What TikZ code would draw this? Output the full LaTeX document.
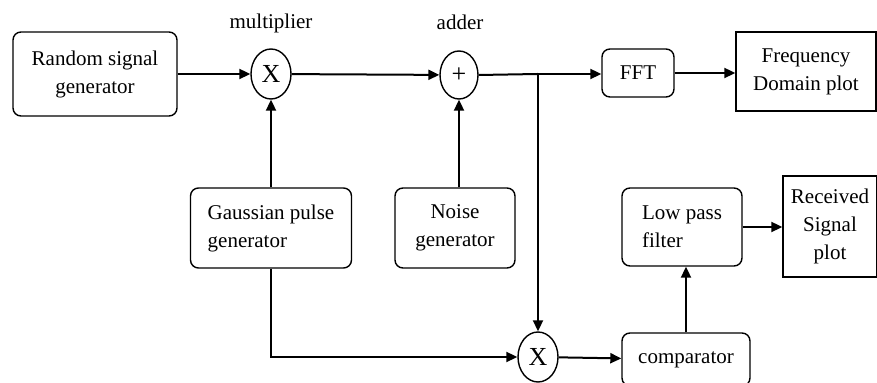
\documentclass[tikz,border=0pt]{standalone}
\usepackage{fontspec}
\setmainfont{Liberation Serif}
\usetikzlibrary{arrows.meta, positioning, shapes.geometric, calc}

\tikzset{
    block/.style={draw, line width=0.7pt, rounded corners=4pt, align=center,
      inner sep=2pt, font=\fontsize{10.5}{14}\selectfont},
    plotbox/.style={draw, line width=0.7pt, align=center, inner sep=2pt,
      font=\fontsize{10.5}{14}\selectfont},
    mixer/.style={draw, ellipse, line width=0.7pt, inner sep=0pt,
      minimum width=20pt, minimum height=25pt, font=\fontsize{13}{15}\selectfont},
    sig/.style={line width=1pt, -{Triangle[length=5.5pt,width=5pt]}},
    wire/.style={line width=1pt},
}

\begin{document}
\begin{tikzpicture}[x=0.5pt, y=-0.5pt]
    \useasboundingbox (0,0) rectangle (877,383);

    % upper chain
    \node[block, minimum width=82pt, minimum height=42pt] (rsg) at (95,74) {Random signal\\generator};
    \node[mixer] (mult) at (271,74) {X};
    \node[font=\fontsize{10.5}{12}\selectfont] (multlbl) at (271,23) {multiplier};
    \node[mixer, minimum width=19pt, minimum height=24pt] (adder) at (459,75) {+};
    \node[font=\fontsize{10.5}{12}\selectfont] (addlbl) at (460,22) {adder};
    \node[block, minimum width=36pt, minimum height=24pt] (fft) at (638,73) {FFT};
    \node[plotbox, minimum width=70pt, minimum height=39.5pt] (fplot) at (806,71.5) {Frequency\\Domain plot};

    % sources below
    \node[block, align=left, minimum width=80.5pt, minimum height=40pt] (gpg) at (271,228) {Gaussian pulse\\generator};
    \node[block, minimum width=60pt, minimum height=40pt] (noise) at (455,228) {Noise\\generator};

    % receiver chain
    \node[mixer] (lmult) at (538,357) {X};
    \node[block, minimum width=64pt, minimum height=26.5pt] (comp) at (686,359.5) {comparator};
    \node[block, align=left, minimum width=60pt, minimum height=39pt] (lpf) at (682,227) {Low pass\\filter};
    \node[plotbox, minimum width=47pt, minimum height=50.5pt] (rplot) at (830,226.5) {Received\\Signal\\plot};

    \coordinate (tap) at (538,74);

    \draw[sig] (rsg) -- (mult);
    \draw[sig] (mult) -- (adder);
    \draw[wire] (adder.east) -- (tap);
    \draw[sig] (tap) -- (fft.west |- tap);
    \draw[sig] (fft.east) -- (fft.east -| fplot.west);
    \draw[sig] (gpg.north -| mult) -- (mult.south);
    \draw[sig] (noise.north -| adder) -- (adder.south);
    \draw[sig] (tap) -- (lmult.north);
    \draw[sig] (gpg.south) -- (gpg.south |- lmult) -- (lmult.west);
    \draw[sig] (lmult) -- (comp);
    \draw[sig] (comp.north) -- (comp.north |- lpf.south);
    \draw[sig] (lpf.east) -- (lpf.east -| rplot.west);
\end{tikzpicture}
\end{document}
